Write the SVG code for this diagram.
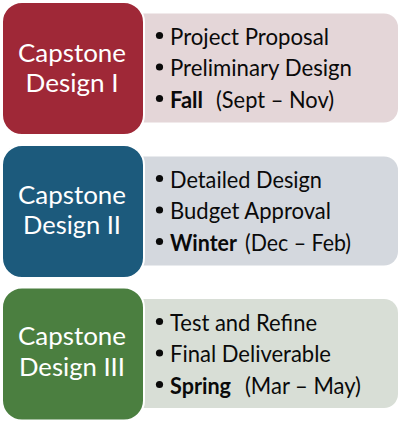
<svg xmlns="http://www.w3.org/2000/svg" width="400" height="423" viewBox="0 0 400 423">
<style>
.panel{stroke:none}
.head{stroke:#ffffff;stroke-width:2}
.title{font-family:Lato,"Open Sans","Liberation Sans",sans-serif;font-size:25.5px;fill:#ffffff;text-anchor:middle}
.item{font-family:Lato,"Open Sans","Liberation Sans",sans-serif;font-size:22.5px;fill:#0a0a0a}
.bold{font-weight:bold}
.dot{fill:#0a0a0a}
</style>
<rect width="400" height="423" fill="#ffffff"/>
<g id="connectors"></g>
<g id="node1">
  <rect class="panel" x="130" y="13.5" width="268" height="109" rx="14" fill="#E4D6D8"/>
  <rect class="head" x="2" y="2" width="142" height="133" rx="20" fill="#9F2837"/>
  <text class="title" x="72" y="61.5" textLength="108" lengthAdjust="spacingAndGlyphs">Capstone</text>
  <text class="title" x="72" y="91.5" textLength="93" lengthAdjust="spacingAndGlyphs">Design I</text>
  <circle class="dot" cx="159.5" cy="35.5" r="3.6"/>
  <circle class="dot" cx="159.5" cy="67" r="3.6"/>
  <circle class="dot" cx="159.5" cy="98.5" r="3.6"/>
  <text class="item" x="170" y="44.5" textLength="159" lengthAdjust="spacingAndGlyphs">Project Proposal</text>
  <text class="item" x="170" y="76" textLength="182" lengthAdjust="spacingAndGlyphs">Preliminary Design</text>
  <text class="item bold" x="170" y="107.5" textLength="33" lengthAdjust="spacingAndGlyphs">Fall</text>
  <text class="item" x="216" y="107.5" textLength="118" lengthAdjust="spacingAndGlyphs">(Sept – Nov)</text>
</g>
<g id="node2">
  <rect class="panel" x="130" y="156.5" width="268" height="109" rx="14" fill="#D4D8DE"/>
  <rect class="head" x="2" y="145" width="142" height="133" rx="20" fill="#1C5A7C"/>
  <text class="title" x="72" y="203.5" textLength="108" lengthAdjust="spacingAndGlyphs">Capstone</text>
  <text class="title" x="72" y="233.5" textLength="98" lengthAdjust="spacingAndGlyphs">Design II</text>
  <circle class="dot" cx="159.5" cy="178.5" r="3.6"/>
  <circle class="dot" cx="159.5" cy="210" r="3.6"/>
  <circle class="dot" cx="159.5" cy="241.5" r="3.6"/>
  <text class="item" x="170" y="187.5" textLength="152" lengthAdjust="spacingAndGlyphs">Detailed Design</text>
  <text class="item" x="170" y="219" textLength="161" lengthAdjust="spacingAndGlyphs">Budget Approval</text>
  <text class="item bold" x="170" y="250.5" textLength="67" lengthAdjust="spacingAndGlyphs">Winter</text>
  <text class="item" x="245" y="250.5" textLength="106" lengthAdjust="spacingAndGlyphs">(Dec – Feb)</text>
</g>
<g id="node3">
  <rect class="panel" x="130" y="299" width="268" height="109" rx="14" fill="#D8DED6"/>
  <rect class="head" x="2" y="287.5" width="142" height="133" rx="20" fill="#4B7F40"/>
  <text class="title" x="72" y="345" textLength="108" lengthAdjust="spacingAndGlyphs">Capstone</text>
  <text class="title" x="72" y="375.5" textLength="106" lengthAdjust="spacingAndGlyphs">Design III</text>
  <circle class="dot" cx="159.5" cy="321.5" r="3.6"/>
  <circle class="dot" cx="159.5" cy="353" r="3.6"/>
  <circle class="dot" cx="159.5" cy="384.5" r="3.6"/>
  <text class="item" x="170" y="330.5" textLength="147" lengthAdjust="spacingAndGlyphs">Test and Refine</text>
  <text class="item" x="170" y="362" textLength="161" lengthAdjust="spacingAndGlyphs">Final Deliverable</text>
  <text class="item bold" x="170" y="393.5" textLength="61" lengthAdjust="spacingAndGlyphs">Spring</text>
  <text class="item" x="245" y="393.5" textLength="116" lengthAdjust="spacingAndGlyphs">(Mar – May)</text>
</g>
</svg>
